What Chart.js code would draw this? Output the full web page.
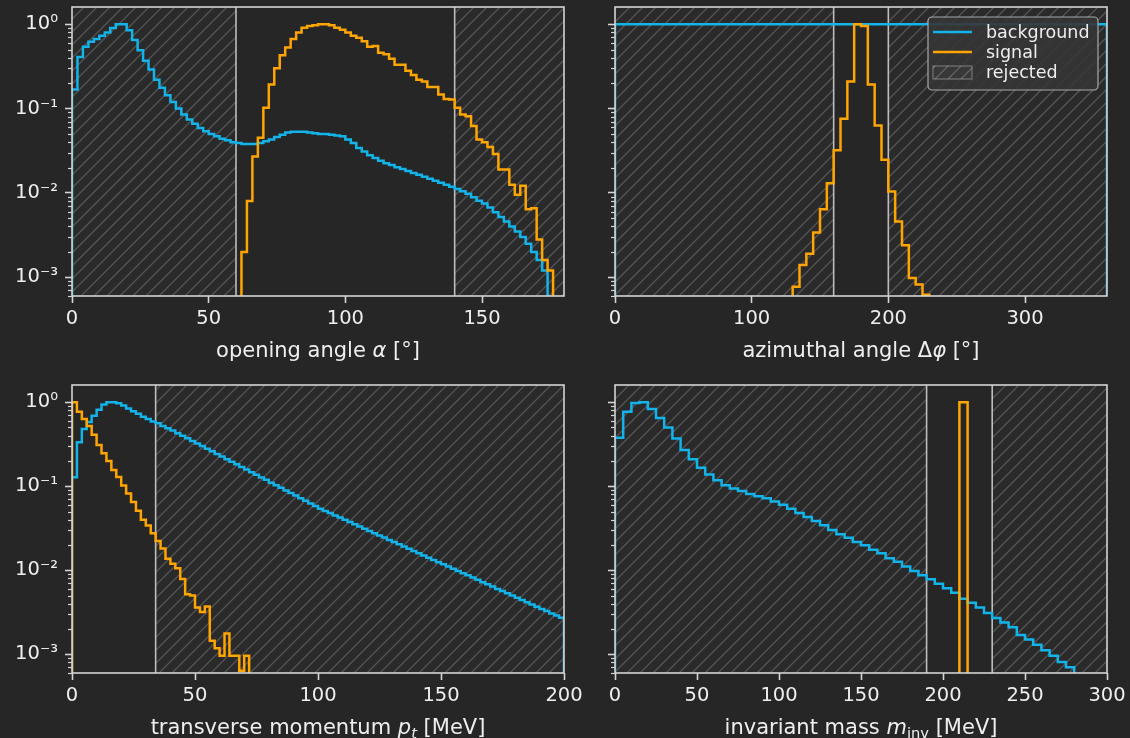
<!DOCTYPE html>
<html>
<head>
<meta charset="utf-8">
<title>cut selection</title>
<script src="https://cdn.jsdelivr.net/npm/chart.js@4.4.1/dist/chart.umd.min.js"></script>
<style>
  html, body { margin: 0; padding: 0; background: #262626; }
  #wrap { position: relative; width: 1130px; height: 738px; overflow: hidden; }
  #wrap canvas { position: absolute; left: 0; top: 0; }
</style>
</head>
<body>
<div id="wrap">
  <canvas id="alphaChart" width="1130" height="738"></canvas>
  <canvas id="phiChart" width="1130" height="738"></canvas>
  <canvas id="ptChart" width="1130" height="738"></canvas>
  <canvas id="massChart" width="1130" height="738"></canvas>
</div>
<script>
// ---- histogram data (normalised to max = 1) ----
const seriesNames = ['background', 'signal', 'rejected'];

// opening angle, 90 bins of 2 deg
const alphaRange = [0, 180];
const alphaBackground = [
  0.168, 0.41, 0.54, 0.62, 0.67, 0.73, 0.80, 0.90, 1.0, 1.0,
  0.85, 0.65, 0.49, 0.37, 0.29, 0.22, 0.176, 0.144, 0.12, 0.10,
  0.085, 0.074, 0.066, 0.059, 0.054, 0.050, 0.047, 0.044, 0.042, 0.040,
  0.039, 0.038, 0.038, 0.038, 0.039, 0.041, 0.043, 0.046, 0.049, 0.052,
  0.053, 0.053, 0.053, 0.052, 0.051, 0.050, 0.050, 0.049, 0.048, 0.047,
  0.043, 0.039, 0.034, 0.031, 0.028, 0.026, 0.024, 0.0225, 0.0214, 0.0202,
  0.0192, 0.0182, 0.0172, 0.0164, 0.0156, 0.0147, 0.0139, 0.0132, 0.0125, 0.0118,
  0.0111, 0.0105, 0.0098, 0.0089, 0.0081, 0.0075, 0.0067, 0.0059, 0.0052, 0.0046,
  0.0040, 0.0035, 0.0030, 0.0025, 0.0020, 0.0016, 0.0012, 0.0004, 0.0002, 0.0001
];
const alphaSignal = [
  0, 0, 0, 0, 0, 0, 0, 0, 0, 0,
  0, 0, 0, 0, 0, 0, 0, 0, 0, 0,
  0, 0, 0, 0, 0, 0, 0, 0, 0, 0,
  0, 0.002, 0.008, 0.027, 0.045, 0.102, 0.193, 0.30, 0.43, 0.53,
  0.67, 0.80, 0.91, 0.955, 0.97, 1.0, 1.0, 0.97, 0.91, 0.86,
  0.80, 0.73, 0.69, 0.63, 0.54, 0.55, 0.46, 0.44, 0.39, 0.33,
  0.33, 0.28, 0.25, 0.22, 0.21, 0.18, 0.18, 0.147, 0.13, 0.128,
  0.102, 0.085, 0.081, 0.062, 0.043, 0.040, 0.035, 0.029, 0.019, 0.019,
  0.0125, 0.0095, 0.0122, 0.0064, 0.0066, 0.0028, 0.0016, 0.0012, 0, 0
];
const alphaCuts = [60, 140];
const alphaRejected = [[0, 60], [140, 180]];
const alphaTicks = [0, 50, 100, 150];

// azimuthal angle, 72 bins of 5 deg
const phiRange = [0, 360];
const phiBackground = [
  1, 1, 1, 1, 1, 1, 1, 1, 1, 1, 1, 1,
  1, 1, 1, 1, 1, 1, 1, 1, 1, 1, 1, 1,
  1, 1, 1, 1, 1, 1, 1, 1, 1, 1, 1, 1,
  1, 1, 1, 1, 1, 1, 1, 1, 1, 1, 1, 1,
  1, 1, 1, 1, 1, 1, 1, 1, 1, 1, 1, 1,
  1, 1, 1, 1, 1, 1, 1, 1, 1, 1, 1, 1
];
const phiSignal = [
  0, 0, 0, 0, 0, 0, 0, 0, 0, 0, 0, 0, 0,
  0, 0, 0, 0, 0, 0, 0, 0, 0, 0, 0, 0, 0,
  0.00077, 0.0014, 0.0019, 0.0034, 0.0064, 0.013, 0.032, 0.076, 0.21, 1.0,
  0.955, 0.193, 0.063, 0.0247, 0.0104, 0.0046, 0.0024, 0.00098, 0.00082, 0.00062,
  0, 0, 0, 0, 0, 0, 0, 0, 0, 0, 0, 0, 0,
  0, 0, 0, 0, 0, 0, 0, 0, 0, 0, 0, 0, 0
];
const phiCuts = [160, 200];
const phiRejected = [[0, 160], [200, 360]];
const phiTicks = [0, 100, 200, 300];

// transverse momentum, 100 bins of 2 MeV
const ptRange = [0, 200];
const ptBackground = [
  0.128, 0.334, 0.48, 0.58, 0.69, 0.81, 0.94, 1.0, 1.0, 0.97,
  0.91, 0.84, 0.78, 0.73, 0.67, 0.63, 0.59, 0.56, 0.52, 0.49,
  0.46, 0.428, 0.399, 0.372, 0.346, 0.322, 0.300, 0.279, 0.260, 0.242,
  0.225, 0.210, 0.195, 0.182, 0.169, 0.158, 0.147, 0.137, 0.127, 0.119,
  0.110, 0.103, 0.0957, 0.0891, 0.0830, 0.0773, 0.0719, 0.0670, 0.0624, 0.0581,
  0.0541, 0.0509, 0.0479, 0.0450, 0.0424, 0.0399, 0.0375, 0.0353, 0.0332, 0.0312,
  0.0294, 0.0276, 0.0260, 0.0245, 0.0230, 0.0217, 0.0204, 0.0192, 0.0180, 0.0170,
  0.0160, 0.0150, 0.0141, 0.0133, 0.0125, 0.0118, 0.0111, 0.0104, 0.0098, 0.0092,
  0.0087, 0.0082, 0.0077, 0.0072, 0.0068, 0.0064, 0.0060, 0.00566, 0.00532, 0.00501,
  0.00471, 0.00443, 0.00417, 0.00392, 0.00369, 0.00347, 0.00327, 0.00307, 0.00289, 0.00272
];
const ptSignal = [
  1.0, 0.77, 0.63, 0.52, 0.41, 0.31, 0.246, 0.20, 0.156, 0.129,
  0.102, 0.082, 0.065, 0.051, 0.040, 0.034, 0.0275, 0.0223, 0.0182, 0.0137,
  0.0120, 0.0106, 0.0079, 0.0052, 0.0050, 0.0036, 0.0032, 0.0037, 0.00145, 0.00118,
  0.00096, 0.00177, 0.00096, 0.00096, 0.00064, 0.00096, 0, 0, 0, 0,
  0, 0, 0, 0, 0, 0, 0, 0, 0, 0,
  0, 0, 0, 0, 0, 0, 0, 0, 0, 0,
  0, 0, 0, 0, 0, 0, 0, 0, 0, 0,
  0, 0, 0, 0, 0, 0, 0, 0, 0, 0,
  0, 0, 0, 0, 0, 0, 0, 0, 0, 0,
  0, 0, 0, 0, 0, 0, 0, 0, 0, 0
];
const ptCuts = [34];
const ptRejected = [[34, 200]];
const ptTicks = [0, 50, 100, 150, 200];

// invariant mass, 60 bins of 5 MeV
const massRange = [0, 300];
const massBackground = [
  0.377, 0.77, 0.98, 1.0, 0.83, 0.65, 0.50, 0.37, 0.27, 0.21,
  0.166, 0.138, 0.118, 0.103, 0.094, 0.088, 0.081, 0.076, 0.072, 0.066,
  0.060, 0.054, 0.048, 0.043, 0.0386, 0.0343, 0.0301, 0.0268, 0.0244, 0.0217,
  0.0198, 0.0176, 0.0159, 0.0139, 0.0126, 0.0111, 0.0098, 0.0087, 0.0078, 0.0069,
  0.0061, 0.0054, 0.0046, 0.0041, 0.0036, 0.0031, 0.0027, 0.0024, 0.0021, 0.0017,
  0.0015, 0.0013, 0.00112, 0.00096, 0.00081, 0.00070, 0.00055, 0.00047, 0.00040, 0.00034
];
const massSignal = [
  0, 0, 0, 0, 0, 0, 0, 0, 0, 0,
  0, 0, 0, 0, 0, 0, 0, 0, 0, 0,
  0, 0, 0, 0, 0, 0, 0, 0, 0, 0,
  0, 0, 0, 0, 0, 0, 0, 0, 0, 0,
  0, 0, 1.0, 0, 0, 0, 0, 0, 0, 0,
  0, 0, 0, 0, 0, 0, 0, 0, 0, 0
];
const massCuts = [190, 230];
const massRejected = [[0, 190], [230, 300]];
const massTicks = [0, 50, 100, 150, 200, 250, 300];

// shared log axis
const yTicks = [1e-3, 1e-2, 1e-1, 1];
const yTickLabels = ['10\u207B\u00B3', '10\u207B\u00B2', '10\u207B\u00B9', '10\u2070'];
const Y_MIN = 6e-4, Y_MAX = 1.6;

// ---- styling ----
const BLUE = '#13b4ea';
const ORANGE = '#ffa500';
const TEXT = '#eeeeee';
const SPINE = '#d4d4d4';
const CUT_LINE = '#bdbdbd';
const HATCH_FILL = 'rgba(255,255,255,0.018)';
const HATCH_LINE = 'rgba(255,255,255,0.2)';
const HATCH_GAP = 13;
const FONT = 'DejaVu Sans';
const FLOOR = 1e-9; // empty bins sit far below the axis so the step edges run off the bottom

Chart.defaults.font.family = FONT;
Chart.defaults.color = TEXT;

// minor log ticks 2..9 x 10^k
const yMinor = [];
for (let e = -4; e <= 0; e++) {
  for (let m = 2; m <= 9; m++) yMinor.push(m * Math.pow(10, e));
}

// outline of a histogram: edges go down to "zero" at both ends like histtype='step'
function stepPoints(range, vals) {
  const w = (range[1] - range[0]) / vals.length;
  const pts = [{ x: range[0], y: FLOOR }];
  vals.forEach((v, i) => {
    const y = v > 0 ? v : FLOOR;
    pts.push({ x: range[0] + i * w, y: y }, { x: range[0] + (i + 1) * w, y: y });
  });
  pts.push({ x: range[1], y: FLOOR });
  return pts;
}

function hatch(ctx, x, y, w, h) {
  ctx.save();
  ctx.beginPath();
  ctx.rect(x, y, w, h);
  ctx.clip();
  ctx.fillStyle = HATCH_FILL;
  ctx.fillRect(x, y, w, h);
  ctx.strokeStyle = HATCH_LINE;
  ctx.lineWidth = 1.3;
  const start = Math.floor((x + y) / HATCH_GAP) * HATCH_GAP;
  ctx.beginPath();
  for (let c = start; c <= x + w + y + h + HATCH_GAP; c += HATCH_GAP) {
    ctx.moveTo(c - (y + h), y + h);
    ctx.lineTo(c - y, y);
  }
  ctx.stroke();
  ctx.restore();
}

// axis label with mathtext-ish pieces (italic symbols, subscripts)
function drawRich(ctx, parts, cx, baseline, size) {
  const fontOf = p => (p.it ? 'italic ' : '') + (p.sub ? size * 0.7 : size) + 'px "' + FONT + '"';
  let total = 0;
  parts.forEach(p => { ctx.font = fontOf(p); total += ctx.measureText(p.t).width; });
  let x = cx - total / 2;
  ctx.textAlign = 'left';
  ctx.textBaseline = 'alphabetic';
  parts.forEach(p => {
    ctx.font = fontOf(p);
    ctx.fillText(p.t, x, baseline + (p.sub ? size * 0.2 : 0));
    x += ctx.measureText(p.t).width;
  });
}

function drawLegend(ctx, a) {
  const w = 170, h = 73;
  const lx = a.right - 9 - w, ly = a.top + 10;
  ctx.beginPath();
  ctx.roundRect(lx, ly, w, h, 4);
  ctx.fillStyle = 'rgba(54,54,54,0.9)';
  ctx.fill();
  ctx.strokeStyle = '#a8a8a8';
  ctx.lineWidth = 1.2;
  ctx.stroke();

  const rows = [ly + 15, ly + 35, ly + 55];
  ctx.lineWidth = 2.5;
  [BLUE, ORANGE].forEach((c, i) => {
    ctx.strokeStyle = c;
    ctx.beginPath();
    ctx.moveTo(lx + 5, rows[i]);
    ctx.lineTo(lx + 44, rows[i]);
    ctx.stroke();
  });
  hatch(ctx, lx + 5, rows[2] - 6, 39, 13);
  ctx.strokeStyle = 'rgba(255,255,255,0.3)';
  ctx.lineWidth = 1.2;
  ctx.strokeRect(lx + 5, rows[2] - 6, 39, 13);

  ctx.fillStyle = TEXT;
  ctx.font = '17.5px "' + FONT + '"';
  ctx.textAlign = 'left';
  ctx.textBaseline = 'middle';
  seriesNames.forEach((s, i) => ctx.fillText(s, lx + 58, rows[i] + 1));
}

const decor = {
  id: 'decor',
  beforeDatasetsDraw(chart, args, o) {
    const { ctx, chartArea: a } = chart;
    const x = chart.scales.x;
    ctx.save();
    ctx.beginPath();
    ctx.rect(a.left, a.top, a.right - a.left, a.bottom - a.top);
    ctx.clip();
    o.rejected.forEach(([lo, hi]) => {
      const x0 = x.getPixelForValue(lo), x1 = x.getPixelForValue(hi);
      hatch(ctx, x0, a.top, x1 - x0, a.bottom - a.top);
    });
    ctx.strokeStyle = CUT_LINE;
    ctx.lineWidth = 1.6;
    o.cuts.forEach(c => {
      const px = x.getPixelForValue(c);
      ctx.beginPath();
      ctx.moveTo(px, a.top);
      ctx.lineTo(px, a.bottom);
      ctx.stroke();
    });
    ctx.restore();
  },
  afterDraw(chart, args, o) {
    const { ctx, chartArea: a } = chart;
    const y = chart.scales.y;
    ctx.save();
    ctx.strokeStyle = SPINE;
    ctx.lineWidth = 1.2;
    yMinor.forEach(v => {
      if (v < Y_MIN || v > Y_MAX) return;
      const py = Math.round(y.getPixelForValue(v)) + 0.5;
      ctx.beginPath();
      ctx.moveTo(a.left - 4, py);
      ctx.lineTo(a.left, py);
      ctx.stroke();
    });
    ctx.lineWidth = 1.6;
    ctx.strokeRect(a.left, a.top, a.right - a.left, a.bottom - a.top);
    ctx.fillStyle = TEXT;
    drawRich(ctx, o.title, (a.left + a.right) / 2, a.bottom + 61, 21);
    if (o.legend) drawLegend(ctx, a);
    ctx.restore();
  }
};

function makePanel(id, p) {
  return new Chart(document.getElementById(id), {
    type: 'line',
    data: {
      datasets: [
        { label: seriesNames[0], data: stepPoints(p.range, p.background), borderColor: BLUE, order: 2 },
        { label: seriesNames[1], data: stepPoints(p.range, p.signal), borderColor: ORANGE, order: 1 }
      ]
    },
    options: {
      responsive: false,
      animation: false,
      events: [],
      elements: {
        point: { radius: 0 },
        line: { borderWidth: 2.5, tension: 0, fill: false, borderJoinStyle: 'miter' }
      },
      layout: { padding: p.padding },
      scales: {
        x: {
          type: 'linear',
          min: p.range[0],
          max: p.range[1],
          afterBuildTicks: s => { s.ticks = p.ticks.map(v => ({ value: v })); },
          afterFit: s => { s.height = p.xHeight; s.paddingLeft = 0; s.paddingRight = 0; },
          grid: { drawOnChartArea: false, tickLength: 7, tickWidth: 1.6, tickColor: SPINE },
          border: { display: false },
          ticks: { autoSkip: false, maxRotation: 0, padding: 4, color: TEXT, font: { size: 19.5 } }
        },
        y: {
          type: 'logarithmic',
          min: Y_MIN,
          max: Y_MAX,
          afterBuildTicks: s => { s.ticks = yTicks.map(v => ({ value: v })); },
          afterFit: s => { s.width = p.yWidth; s.paddingTop = 0; s.paddingBottom = 0; },
          grid: { drawOnChartArea: false, tickLength: 7, tickWidth: 1.6, tickColor: SPINE },
          border: { display: false },
          ticks: {
            display: p.yLabels,
            padding: 7,
            color: TEXT,
            font: { size: 19.5 },
            callback: v => yTickLabels[yTicks.indexOf(v)]
          }
        }
      },
      plugins: {
        legend: { display: false },
        tooltip: { enabled: false },
        decor: { rejected: p.rejected, cuts: p.cuts, title: p.title, legend: !!p.legend }
      }
    },
    plugins: [decor]
  });
}

makePanel('alphaChart', {
  range: alphaRange, background: alphaBackground, signal: alphaSignal,
  cuts: alphaCuts, rejected: alphaRejected, ticks: alphaTicks,
  padding: { left: 0, top: 7, right: 566, bottom: 369 }, xHeight: 73, yWidth: 72, yLabels: true,
  title: [{ t: 'opening angle ' }, { t: '\u03B1', it: true }, { t: ' [\u00B0]' }]
});

makePanel('phiChart', {
  range: phiRange, background: phiBackground, signal: phiSignal,
  cuts: phiCuts, rejected: phiRejected, ticks: phiTicks,
  padding: { left: 565, top: 7, right: 23, bottom: 369 }, xHeight: 73, yWidth: 50, yLabels: false,
  legend: true,
  title: [{ t: 'azimuthal angle \u0394' }, { t: '\u03C6', it: true }, { t: ' [\u00B0]' }]
});

makePanel('ptChart', {
  range: ptRange, background: ptBackground, signal: ptSignal,
  cuts: ptCuts, rejected: ptRejected, ticks: ptTicks,
  padding: { left: 0, top: 385, right: 566, bottom: 0 }, xHeight: 65, yWidth: 72, yLabels: true,
  title: [{ t: 'transverse momentum ' }, { t: 'p', it: true }, { t: 't', it: true, sub: true }, { t: ' [MeV]' }]
});

makePanel('massChart', {
  range: massRange, background: massBackground, signal: massSignal,
  cuts: massCuts, rejected: massRejected, ticks: massTicks,
  padding: { left: 565, top: 385, right: 23, bottom: 0 }, xHeight: 65, yWidth: 50, yLabels: false,
  title: [{ t: 'invariant mass ' }, { t: 'm', it: true }, { t: 'inv', sub: true }, { t: ' [MeV]' }]
});
</script>
</body>
</html>
